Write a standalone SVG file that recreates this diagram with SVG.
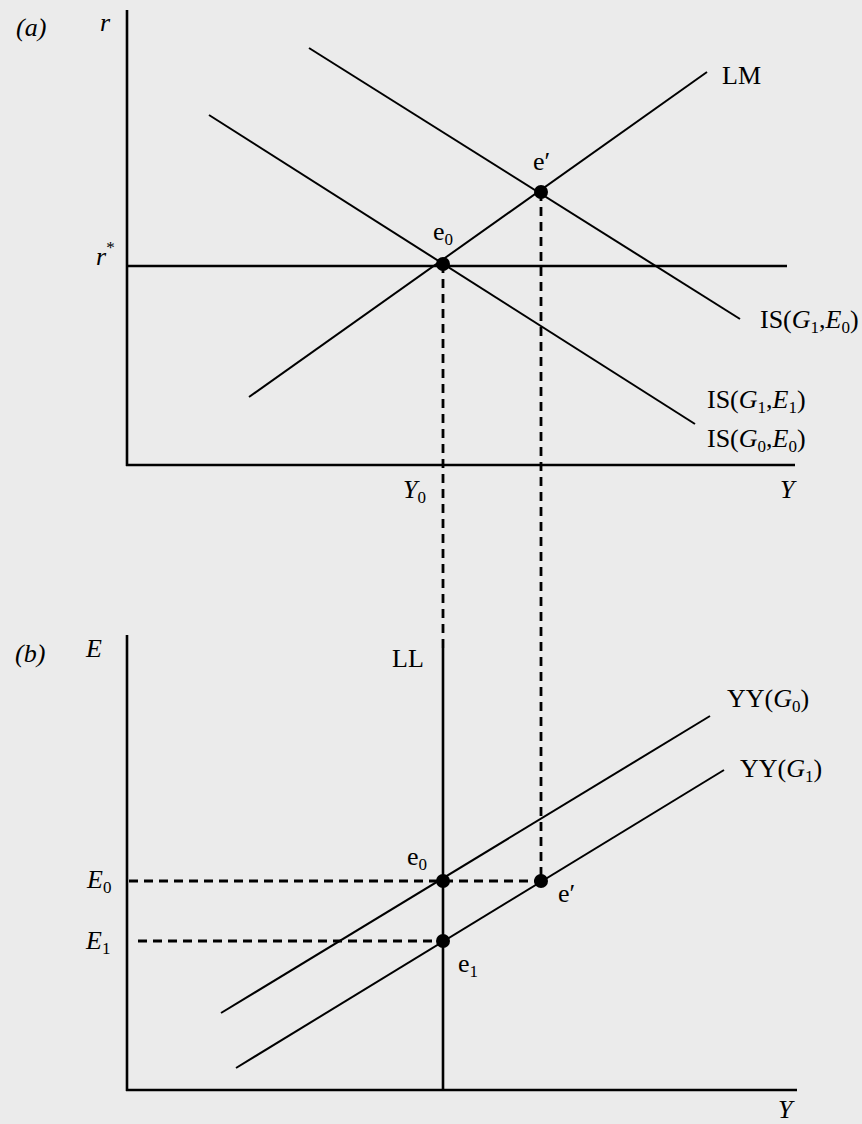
<svg xmlns="http://www.w3.org/2000/svg" width="862" height="1124" viewBox="0 0 862 1124">
<style>
.ax{stroke:#000;stroke-width:2.6;fill:none}
.cv{stroke:#000;stroke-width:2;fill:none}
.ds{stroke:#000;stroke-width:2.8;stroke-dasharray:9 6;fill:none}
.t{font-family:"Liberation Serif","Times New Roman",serif;font-size:26px;fill:#000}
.i{font-style:italic}
.s{font-size:17px}
.dot{fill:#000}
</style>
<rect width="862" height="1124" fill="#ebebeb"/>
<g id="connectors">
<line class="ds" x1="443" y1="264" x2="443" y2="650"/>
<line class="ds" x1="541" y1="192" x2="541" y2="881"/>
<line class="ds" x1="129" y1="881" x2="541" y2="881"/>
<line class="ds" x1="138" y1="941" x2="443" y2="941"/>
</g>
<g id="panel-a">
<line class="ax" x1="127" y1="10" x2="127" y2="466"/>
<line class="ax" x1="126" y1="465" x2="795" y2="465"/>
<line class="ax" x1="127" y1="266" x2="787" y2="266"/>
<line id="LM" class="cv" x1="249" y1="397" x2="707" y2="72"/>
<line id="IS0" class="cv" x1="209" y1="115" x2="695" y2="424"/>
<line id="IS1" class="cv" x1="309" y1="48" x2="740" y2="319"/>
<circle class="dot" cx="443" cy="264" r="7"/>
<circle class="dot" cx="541" cy="192" r="7"/>
<text class="t i" x="16" y="36">(a)</text>
<text class="t i" x="100" y="31">r</text>
<text class="t" x="96" y="265"><tspan class="i">r</tspan><tspan class="s" dy="-12">*</tspan></text>
<text class="t" x="722" y="84">LM</text>
<text class="t" x="533" y="170">e′</text>
<text class="t" x="433" y="240">e<tspan class="s" dy="5">0</tspan></text>
<text class="t" x="760" y="328">IS(<tspan class="i">G</tspan><tspan class="s" dy="5">1</tspan><tspan dy="-5">,</tspan><tspan class="i">E</tspan><tspan class="s" dy="5">0</tspan><tspan dy="-5">)</tspan></text>
<text class="t" x="707" y="408">IS(<tspan class="i">G</tspan><tspan class="s" dy="5">1</tspan><tspan dy="-5">,</tspan><tspan class="i">E</tspan><tspan class="s" dy="5">1</tspan><tspan dy="-5">)</tspan></text>
<text class="t" x="707" y="447">IS(<tspan class="i">G</tspan><tspan class="s" dy="5">0</tspan><tspan dy="-5">,</tspan><tspan class="i">E</tspan><tspan class="s" dy="5">0</tspan><tspan dy="-5">)</tspan></text>
<text class="t" x="403" y="498"><tspan class="i">Y</tspan><tspan class="s" dy="5">0</tspan></text>
<text class="t i" x="780" y="498">Y</text>
</g>
<g id="panel-b">
<line class="ax" x1="127" y1="635" x2="127" y2="1091"/>
<line class="ax" x1="126" y1="1090" x2="797" y2="1090"/>
<line id="LL" class="ax" x1="443" y1="648" x2="443" y2="1090"/>
<line id="YY0" class="cv" x1="221" y1="1013" x2="710" y2="716"/>
<line id="YY1" class="cv" x1="236" y1="1068" x2="724" y2="770"/>
<circle class="dot" cx="443" cy="881" r="7"/>
<circle class="dot" cx="443" cy="941" r="7"/>
<circle class="dot" cx="541" cy="881" r="7"/>
<text class="t i" x="15" y="662">(b)</text>
<text class="t i" x="86" y="657">E</text>
<text class="t" x="392" y="667">LL</text>
<text class="t" x="727" y="707">YY(<tspan class="i">G</tspan><tspan class="s" dy="5">0</tspan><tspan dy="-5">)</tspan></text>
<text class="t" x="740" y="777">YY(<tspan class="i">G</tspan><tspan class="s" dy="5">1</tspan><tspan dy="-5">)</tspan></text>
<text class="t" x="407" y="865">e<tspan class="s" dy="5">0</tspan></text>
<text class="t" x="558" y="902">e′</text>
<text class="t" x="458" y="972">e<tspan class="s" dy="5">1</tspan></text>
<text class="t" x="87" y="888"><tspan class="i">E</tspan><tspan class="s" dy="5">0</tspan></text>
<text class="t" x="86" y="949"><tspan class="i">E</tspan><tspan class="s" dy="5">1</tspan></text>
<text class="t i" x="778" y="1118">Y</text>
</g>
</svg>
